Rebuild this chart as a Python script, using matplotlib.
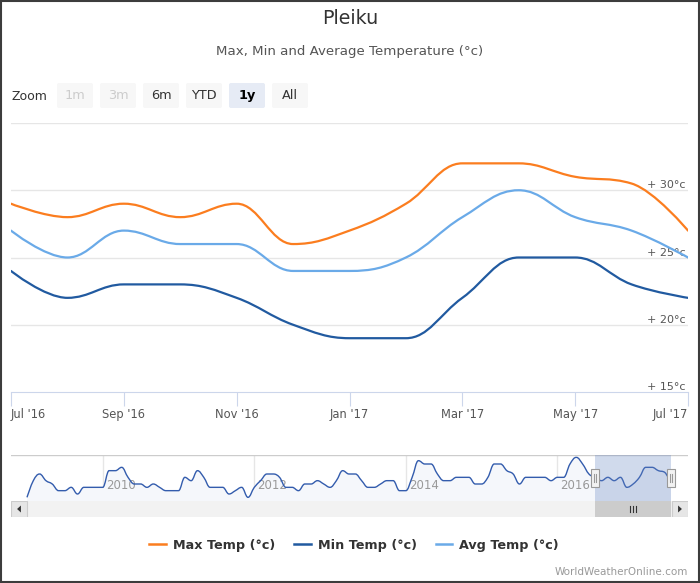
import matplotlib
matplotlib.use('Agg')
import matplotlib.pyplot as plt
from matplotlib.path import Path
from matplotlib.patches import PathPatch, Rectangle, FancyBboxPatch
from matplotlib.lines import Line2D
import matplotlib.transforms as mtransforms

W, H = 700, 583

# main chart, monthly Jul '16 .. Jul '17
months = list(range(13))
max_temp = [29, 28, 29, 28, 29, 26, 27, 29, 32, 32, 31, 30.5, 27]
min_temp = [24, 22, 23, 23, 22, 20, 19, 19, 22, 25, 25, 23, 22]
avg_temp = [27, 25, 27, 26, 26, 24, 24, 25, 28, 30, 28, 27, 25]
tick_pos = [0, 2, 4, 6, 8, 10, 12]
tick_labels = ["Jul '16", "Sep '16", "Nov '16", "Jan '17", "Mar '17", "May '17", "Jul '17"]
y_ticks = [15, 20, 25, 30]

# navigator series, monthly Jan 2009 .. Jul 2017
nav_temp = [23, 28, 30, 28, 27, 25, 25, 26, 24, 26, 26, 26,
            26, 31, 31, 32, 29, 27, 27, 26, 27, 26, 25, 25,
            25, 29, 28, 31, 29, 26, 26, 26, 24, 25, 26, 23,
            26, 28, 30, 30, 29, 26, 26, 25, 27, 27, 28, 27,
            26, 28, 31, 30, 30, 28, 26, 26, 27, 28, 28, 25,
            25, 29, 34, 33, 33, 30, 28, 28, 29, 29, 29, 27,
            27, 29, 33, 33, 31, 30, 27, 29, 29, 29, 29, 28,
            29, 29, 33, 35, 33, 30] + max_temp
nav_years = [12, 36, 60, 84]
nav_year_labels = ['2010', '2012', '2014', '2016']
sel_start, sel_end = 90, 102

zoom_buttons = ['1m', '3m', '6m', 'YTD', '1y', 'All']
zoom_state = ['off', 'off', 'on', 'on', 'sel', 'on']

series = [('Max Temp (°c)', max_temp, '#fb7d1f'),
          ('Min Temp (°c)', min_temp, '#215aa0'),
          ('Avg Temp (°c)', avg_temp, '#6aaae8')]


def spline_path(xs, ys):
    # highcharts style spline control points
    n = len(xs)
    lc = [(xs[i], ys[i]) for i in range(n)]
    rc = [(xs[i], ys[i]) for i in range(n)]
    for i in range(1, n - 1):
        x, y = xs[i], ys[i]
        lx, ly = xs[i - 1], ys[i - 1]
        nx, ny = xs[i + 1], ys[i + 1]
        lcx = (1.5 * x + lx) / 2.5
        lcy = (1.5 * y + ly) / 2.5
        rcx = (1.5 * x + nx) / 2.5
        rcy = (1.5 * y + ny) / 2.5
        corr = ((rcy - lcy) * (rcx - x)) / (rcx - lcx) + y - rcy
        lcy += corr
        rcy += corr
        if lcy > ly and lcy > y:
            lcy = max(ly, y)
            rcy = 2 * y - lcy
        elif lcy < ly and lcy < y:
            lcy = min(ly, y)
            rcy = 2 * y - lcy
        if rcy > ny and rcy > y:
            rcy = max(ny, y)
            lcy = 2 * y - rcy
        elif rcy < ny and rcy < y:
            rcy = min(ny, y)
            lcy = 2 * y - rcy
        lc[i] = (lcx, lcy)
        rc[i] = (rcx, rcy)
    verts = [(xs[0], ys[0])]
    codes = [Path.MOVETO]
    for i in range(1, n):
        verts += [rc[i - 1], lc[i], (xs[i], ys[i])]
        codes += [Path.CURVE4] * 3
    return verts, codes


def px_rect(l, t, r, b):
    return [l / W, 1 - b / H, (r - l) / W, (b - t) / H]


fig = plt.figure(figsize=(W / 100, H / 100), dpi=100)
plt.rcParams['font.family'] = ['DejaVu Sans']

# decorations in pixel coords
deco = fig.add_axes([0, 0, 1, 1])
deco.set_xlim(0, W)
deco.set_ylim(H, 0)
deco.axis('off')
deco.add_patch(Rectangle((1, 1), W - 2, H - 2, fill=False, ec='#3c3c3c', lw=1.5))
deco.text(W / 2, 18, 'Pleiku', ha='center', va='center', fontsize=13.7, color='#333333')
deco.text(W / 2, 52, 'Max, Min and Average Temperature (°c)', ha='center', va='center',
          fontsize=9.6, color='#555555')
deco.text(12, 96, 'Zoom', ha='left', va='center', fontsize=9, color='#333333')
for i, (lab, st) in enumerate(zip(zoom_buttons, zoom_state)):
    bx = 57 + i * 43
    fc = '#e6ebf5' if st == 'sel' else '#f7f7f7'
    deco.add_patch(FancyBboxPatch((bx + 2, 85), 32, 21, boxstyle='round,pad=2',
                                  fc=fc, ec='none'))
    col = '#cccccc' if st == 'off' else ('#000000' if st == 'sel' else '#333333')
    deco.text(bx + 18, 95.5, lab, ha='center', va='center', fontsize=9.3, color=col,
              fontweight='bold' if st == 'sel' else 'normal')
deco.text(688, 572, 'WorldWeatherOnline.com', ha='right', va='center', fontsize=7.5,
          color='#999999')

# main chart
ax = fig.add_axes(px_rect(11, 123, 688, 392))
ax.set_xlim(0, 12)
ax.set_ylim(15, 35)
for s in ['top', 'left', 'right']:
    ax.spines[s].set_visible(False)
ax.spines['bottom'].set_color('#ccd6eb')
for v in [20, 25, 30, 35]:
    ax.axhline(v, color='#e6e6e6', lw=1, zorder=1)
ax.set_yticks([])
ax.set_xticks(tick_pos)
ax.set_xticklabels(tick_labels)
ax.tick_params(axis='x', length=10, color='#ccd6eb', labelcolor='#555555',
               labelsize=8.3, pad=1.5)
tl = ax.get_xticklabels()
tl[0].set_ha('left')
tl[-1].set_ha('right')
trans = mtransforms.blended_transform_factory(ax.transAxes, ax.transData)
for v in y_ticks:
    ax.text(0.997, v, '+ %d°c' % v, transform=trans, ha='right', va='bottom',
            fontsize=8, color='#555555', zorder=2)

handles = []
for name, vals, col in series:
    verts, codes = spline_path(months, vals)
    ax.add_patch(PathPatch(Path(verts, codes), fc='none', ec=col, lw=1.6, zorder=3,
                           capstyle='round', joinstyle='round'))
    handles.append(Line2D([], [], color=col, lw=1.8, label=name))

fig.legend(handles=handles, loc='center', bbox_to_anchor=(354 / W, 1 - 545 / H), ncol=3,
           frameon=False, handlelength=1.3, handletextpad=0.55, columnspacing=1.5,
           prop={'weight': 'bold', 'size': 9.2}, labelcolor='#333333')

# navigator
nav_x = list(range(len(nav_temp)))
pxm = (671 - 27) / 102.0
nav_xmin = -16 / pxm
nav_xmax = 102 + 17 / pxm
nav = fig.add_axes(px_rect(11, 455, 688, 501))
nav.set_xlim(nav_xmin, nav_xmax)
nav.set_ylim(21.9, 35.7)
nav.axis('off')
for x, lab in zip(nav_years, nav_year_labels):
    nav.axvline(x, color='#e6e6e6', lw=1, zorder=1)
    nav.annotate(lab, (x, 0.33), xycoords=('data', 'axes fraction'), xytext=(3, 0),
                 textcoords='offset pixels', ha='left', va='center', fontsize=8.5,
                 color='#999999', zorder=2)
verts, codes = spline_path(nav_x, nav_temp)
fill_verts = verts + [(nav_x[-1], 21.9), (nav_x[0], 21.9), verts[0]]
fill_codes = codes + [Path.LINETO, Path.LINETO, Path.CLOSEPOLY]
nav.add_patch(PathPatch(Path(fill_verts, fill_codes), fc='#f5f7fb', ec='none', zorder=1.5))
nav.add_patch(PathPatch(Path(verts, codes), fc='none', ec='#335cad', lw=1, zorder=3))
nav.axhline(35.7, color='#cccccc', lw=1, zorder=4)
nav.axvspan(sel_start, sel_end, color=(102 / 255, 133 / 255, 194 / 255, 0.3), lw=0, zorder=4)
hw = 4 / pxm
htrans = mtransforms.blended_transform_factory(nav.transData, nav.transAxes)
for x in [sel_start, sel_end]:
    nav.add_patch(Rectangle((x - hw, 0.304), 2 * hw, 0.392, fc='#f2f2f2', ec='#999999', lw=0.8,
                            transform=htrans, zorder=5, clip_on=False))
    for d in [-0.8 / pxm, 0.8 / pxm]:
        nav.plot([x + d, x + d], [0.42, 0.58], color='#999999', lw=0.8, zorder=6,
                 transform=htrans, clip_on=False)

# scrollbar
sb = fig.add_axes(px_rect(11, 501, 688, 517))
sb.set_xlim(nav_xmin, nav_xmax)
sb.set_ylim(0, 1)
sb.axis('off')
sb.add_patch(Rectangle((0, 0), 1, 1, transform=sb.transAxes, fc='#f2f2f2', ec='none'))
sb.axvspan(sel_start, sel_end, color='#cccccc', lw=0)
bw = 16 / 677
for bx, tri in [(0, [(0.38, 0.5), (0.62, 0.72), (0.62, 0.28)]),
                (1 - bw, [(0.62, 0.5), (0.38, 0.72), (0.38, 0.28)])]:
    sb.add_patch(Rectangle((bx, 0), bw, 1, transform=sb.transAxes, fc='#e6e6e6',
                           ec='#cccccc', lw=0.8))
    pts = [(bx + px * bw, py) for px, py in tri]
    sb.add_patch(plt.Polygon(pts, closed=True, transform=sb.transAxes, fc='#333333', ec='none'))
mid = (sel_start + sel_end) / 2
for d in [-0.5, 0, 0.5]:
    sb.plot([mid + d, mid + d], [0.3, 0.7], color='#333333', lw=0.8)

fig.savefig('out.png', dpi=100)
